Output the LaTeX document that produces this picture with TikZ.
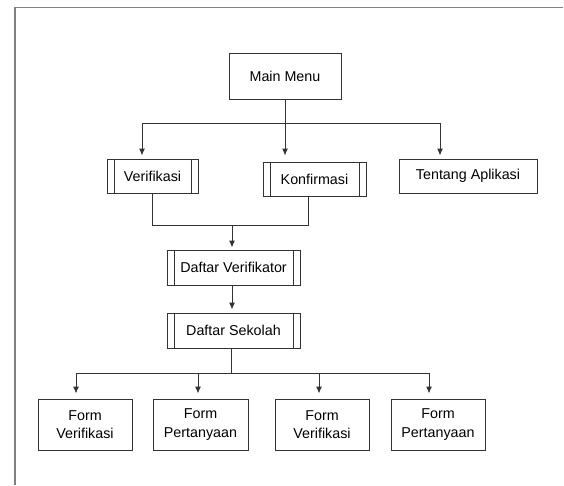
\documentclass[tikz,border=0pt]{standalone}
\usepackage{fontspec}
\setmainfont{Liberation Sans}
\usetikzlibrary{arrows.meta}
\begin{document}
\begin{tikzpicture}[x=1pt,y=-1pt,
  boxline/.style={draw=black!80, line width=1pt},
  box/.style={boxline, rectangle, inner sep=0pt, align=center,
    font=\fontsize{14.3}{18.5}\selectfont, text=black},
  subproc/.style={box, path picture={
    \draw[boxline] ([xshift=7pt]path picture bounding box.north west) -- ([xshift=7pt]path picture bounding box.south west);
    \draw[boxline] ([xshift=-7pt]path picture bounding box.north east) -- ([xshift=-7pt]path picture bounding box.south east);}},
  conn/.style={draw=black!80, line width=1pt},
  arr/.style={conn, -{Latex[length=7pt,width=6pt]}},
  frameline/.style={draw=black!50, line width=1.8pt}]
\useasboundingbox (0,0) rectangle (564,485);
% frame
\coordinate (fb) at (563,7.5);
\coordinate (fc) at (15,485);
\draw[frameline] (fc) -- (15,7.5) -- (fb);
% nodes
\node[box, minimum width=112pt, minimum height=46pt] (mm) at (285,76) {Main Menu};
\node[subproc, minimum width=91pt, minimum height=34pt] (ver) at (152.5,176) {Verifikasi};
\node[subproc, minimum width=103pt, minimum height=34pt] (kon) at (314.5,179) {Konfirmasi};
\node[box, minimum width=138pt, minimum height=34pt] (ten) at (468,176) {Tentang Aplikasi};
\node[subproc, minimum width=133pt, minimum height=35pt] (dv) at (233.5,267.5) {Daftar Verifikator};
\node[subproc, minimum width=133pt, minimum height=35pt] (ds) at (233.5,330.5) {Daftar Sekolah};
\node[box, minimum width=94pt, minimum height=51pt] (f1) at (85,424.5) {Form\\Verifikasi};
\node[box, minimum width=95pt, minimum height=51pt] (f2) at (200.5,424.5) {Form\\Pertanyaan};
\node[box, minimum width=94pt, minimum height=51pt] (f3) at (322,424.5) {Form\\Verifikasi};
\node[box, minimum width=94pt, minimum height=51pt] (f4) at (438,424.5) {Form\\Pertanyaan};
% connectors from main menu
\coordinate (b1) at (285,123);
\draw[conn] (mm.south) -- (b1);
\draw[arr, shorten >=3pt] (b1) -| ([xshift=-10.5pt]ver.north);
\draw[arr, shorten >=6pt] (b1) -- (b1 |- kon.north);
\draw[arr, shorten >=3pt] (b1) -| ([xshift=-28pt]ten.north);
% verifikasi / konfirmasi to daftar verifikator
\coordinate (b2) at (232,225);
\draw[conn] (ver.south) |- (b2);
\draw[conn] ([xshift=-6.5pt]kon.south) |- (b2);
\draw[arr, shorten >=2pt] (b2) -- (b2 |- dv.north);
% daftar verifikator to daftar sekolah
\draw[arr, shorten >=3pt] ([xshift=-1.5pt]dv.south) -- ([xshift=-1.5pt]ds.north);
% daftar sekolah to forms
\coordinate (b3) at (231,373);
\draw[conn] (ds.south -| b3) -- (b3);
\draw[arr, shorten >=5pt] (b3) -| ([xshift=-9pt]f1.north);
\draw[arr, shorten >=5pt] (b3) -| ([xshift=-2.5pt]f2.north);
\draw[arr, shorten >=5pt] (b3) -| ([xshift=-3pt]f3.north);
\draw[arr, shorten >=5pt] (b3) -| ([xshift=-9pt]f4.north);
\end{tikzpicture}
\end{document}
